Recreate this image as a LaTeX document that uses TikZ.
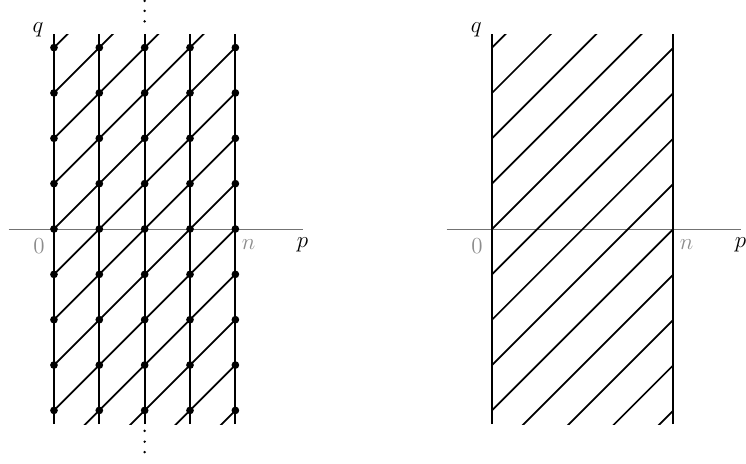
\documentclass[tikz,border=0pt]{standalone}
\begin{document}
\begin{tikzpicture}[x=1cm,y=1cm,
  vline/.style={line width=1.25pt},
  diagline/.style={line width=1.1pt},
  axisline/.style={line width=0.6pt,draw=black!55},
  grid dot/.style={circle,fill=black,inner sep=0pt,minimum size=0.17cm},
  small dot/.style={circle,fill=black,inner sep=0pt,minimum size=0.06cm},
  graylabel/.style={text=black!45,font=\Large},
  blacklabel/.style={text=black,font=\Large}]
\useasboundingbox (-1.19,-5.18) rectangle (15.26,5.05);

% ---------- left diagram ----------
\begin{scope}
  \coordinate (La) at (-1,0);
  \coordinate (Lb) at (5.5,0);
  \draw[axisline] (La) -- (Lb);
  \begin{scope}
    \clip (0,-4.3) rectangle (4,4.3);
    \foreach \c in {-8,...,4} \draw[diagline] (-1,\c-1) -- (5,\c+5);
  \end{scope}
  \foreach \i in {0,...,4} {
    \coordinate (Lt\i) at (\i,4.3);
    \coordinate (Lbot\i) at (\i,-4.3);
    \draw[vline] (Lbot\i) -- (Lt\i);
    \foreach \j in {-4,...,4} \node[grid dot] (Ld\i\j) at (\i,\j) {};
  }
  \foreach \y [count=\k] in {4.58,4.81,5.03} \node[small dot] (Lvt\k) at (2,\y) {};
  \foreach \y [count=\k] in {-4.45,-4.69,-4.92} \node[small dot] (Lvb\k) at (2,\y) {};
  \node[graylabel] (L0) at (-0.33,-0.38) {$0$};
  \node[graylabel] (Ln) at (4.29,-0.34) {$n$};
  \node[blacklabel] (Lp) at (5.48,-0.34) {$p$};
  \node[blacklabel] (Lq) at (-0.35,4.4) {$q$};
\end{scope}

% ---------- right diagram ----------
\begin{scope}[xshift=9.66cm]
  \coordinate (Ra) at (-1,0);
  \coordinate (Rb) at (5.5,0);
  \draw[axisline] (Ra) -- (Rb);
  \begin{scope}
    \clip (0,-4.3) rectangle (4,4.3);
    \foreach \c in {-8,...,4} \draw[diagline] (-1,\c-1) -- (5,\c+5);
  \end{scope}
  \foreach \i in {0,4} {
    \coordinate (Rt\i) at (\i,4.3);
    \coordinate (Rbot\i) at (\i,-4.3);
    \draw[vline] (Rbot\i) -- (Rt\i);
  }
  \node[graylabel] (R0) at (-0.33,-0.38) {$0$};
  \node[graylabel] (Rn) at (4.29,-0.34) {$n$};
  \node[blacklabel] (Rp) at (5.48,-0.34) {$p$};
  \node[blacklabel] (Rq) at (-0.35,4.4) {$q$};
\end{scope}
\end{tikzpicture}
\end{document}
